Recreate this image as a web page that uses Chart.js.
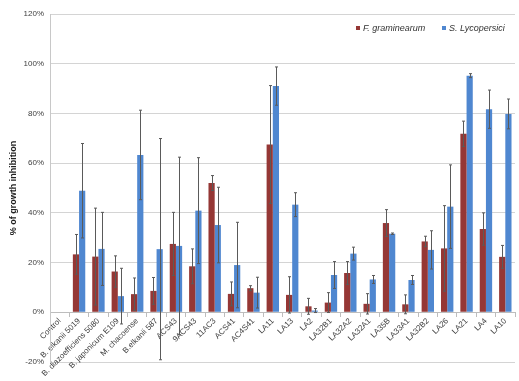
<!DOCTYPE html>
<html>
<head>
<meta charset="utf-8">
<script src="https://cdn.jsdelivr.net/npm/chart.js@4/dist/chart.umd.min.js"></script>
<style>
  body { margin: 0; background: #fff; }
  #wrap { position: relative; width: 519px; height: 381px; }
  #legend { position: absolute; left: 356px; top: 23px; font: italic 9px "Liberation Sans", Arial, sans-serif; color: #333; white-space: nowrap; }
  #legend span.box { display: inline-block; width: 4px; height: 4px; margin-right: 3px; vertical-align: 1px; }
  #legend span.item { margin-right: 14px; }
</style>
</head>
<body>
<div id="wrap">
  <canvas id="chart" width="519" height="381"></canvas>
  <div id="legend">
    <span class="item"><span class="box" style="background:#953735"></span>F. graminearum</span>
    <span class="item"><span class="box" style="background:#4f87d0"></span>S. Lycopersici</span>
  </div>
</div>
<script>
// Categories (strains)
const categories = ['Control', 'B. elkanii 5019', 'B. diazoefficiens 5080', 'B. japonicum E109', 'M. chacoense',
  'B.elkanii 587', 'ACS43', '9ACS43', '11AC3', 'ACS41', 'AC4S41', 'LA11', 'LA13', 'LA2', 'LA32B1',
  'LA32A2', 'LA32A1', 'LA35B', 'LA33A1', 'LA32B2', 'LA26', 'LA21', 'LA4', 'LA10'];

// % growth inhibition, F. graminearum
const fgValues = [null, 23.3, 22.4, 16.4, 7.3, 8.6, 27.5, 18.5, 52, 7.4, 9.7, 67.5, 7, 2.4, 3.9,
  15.8, 3.4, 35.9, 3.2, 28.5, 25.7, 71.8, 33.5, 22.3];
const fgErrors = [0, 8, 19.5, 6.3, 6.5, 5.4, 12.7, 7, 3, 4.8, 1, 23.7, 7.3, 3.2, 4,
  4.6, 4.1, 5.4, 3.8, 2.1, 17.2, 5.1, 6.5, 4.6];

// % growth inhibition, S. Lycopersici
const slValues = [null, 48.9, 25.5, 6.5, 63.3, 25.4, 26.7, 40.9, 35.1, 19, 7.9, 91, 43.3, 0.7, 15,
  23.6, 13.2, 31.6, 13, 25.1, 42.5, 95.2, 81.7, 79.8];
const slErrors = [0, 19, 14.7, 11.2, 18, 44.5, 35.7, 21.3, 15.2, 17.2, 6.2, 7.7, 4.8, 0.8, 5.4,
  2.6, 1.6, 0.3, 1.8, 7.7, 16.8, 0.8, 7.7, 6];

const yTicks = [-20, 0, 20, 40, 60, 80, 100, 120];

// Draw error bars from the errors attached to each dataset
const errorBars = {
  id: 'errorBars',
  afterDatasetsDraw(chart) {
    const ctx = chart.ctx;
    const y = chart.scales.y;
    ctx.save();
    chart.data.datasets.forEach(function(ds, i) {
      const meta = chart.getDatasetMeta(i);
      meta.data.forEach(function(bar, j) {
        const v = ds.data[j];
        const e = ds.errors[j];
        if (v === null || !e) return;
        const x = Math.round(bar.x) + 0.5;
        const top = y.getPixelForValue(v + e);
        const bot = y.getPixelForValue(v - e);
        ctx.strokeStyle = '#5a5a5a';
        ctx.lineWidth = 1;
        ctx.beginPath();
        ctx.moveTo(x, top);
        ctx.lineTo(x, bot);
        ctx.moveTo(x - 1.5, top);
        ctx.lineTo(x + 1.5, top);
        ctx.moveTo(x - 1.5, bot);
        ctx.lineTo(x + 1.5, bot);
        ctx.stroke();
      });
    });
    ctx.restore();
  }
};

const ctx = document.getElementById('chart').getContext('2d');
const chart = new Chart(ctx, {
  type: 'bar',
  data: {
    labels: categories,
    datasets: [{
      label: 'F. graminearum',
      data: fgValues,
      errors: fgErrors,
      backgroundColor: '#953735'
    }, {
      label: 'S. Lycopersici',
      data: slValues,
      errors: slErrors,
      backgroundColor: '#4f87d0'
    }]
  },
  options: {
    responsive: false,
    animation: false,
    layout: { padding: { top: 14, right: 4, bottom: 19, left: 0 } },
    datasets: { bar: { categoryPercentage: 0.64, barPercentage: 1.0 } },
    plugins: {
      legend: { display: false },
      tooltip: { enabled: false }
    },
    scales: {
      x: {
        position: { y: 0 },
        grid: { drawOnChartArea: false, drawTicks: true, tickLength: 4, offset: true, color: '#bdbdbd' },
        border: { color: '#bdbdbd' },
        ticks: {
          autoSkip: false,
          minRotation: 45,
          maxRotation: 45,
          padding: 0,
          color: '#404040',
          font: { family: 'Liberation Sans', size: 8 }
        }
      },
      y: {
        min: -20,
        max: 120,
        afterBuildTicks: function(scale) {
          scale.ticks = yTicks.map(function(v) { return { value: v }; });
        },
        afterFit: function(scale) { scale.width = 50; },
        grid: { color: '#d4d4d4', drawTicks: false },
        border: { color: '#c8c8c8' },
        ticks: {
          padding: 6,
          color: '#404040',
          font: { family: 'Liberation Sans', size: 8 },
          callback: function(v) { return v + '%'; }
        },
        title: {
          display: true,
          text: '% of growth inhibition',
          color: '#222',
          padding: { top: 8, bottom: 0 },
          font: { family: 'Liberation Sans', size: 9, weight: 'bold' }
        }
      }
    }
  },
  plugins: [errorBars]
});
</script>
</body>
</html>
